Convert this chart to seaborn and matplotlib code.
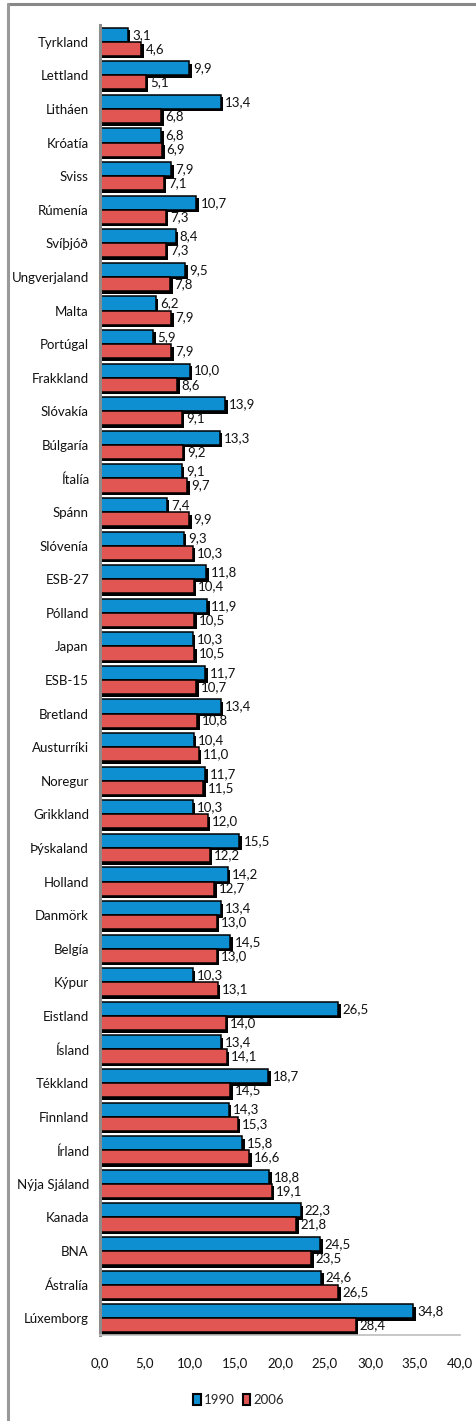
import matplotlib
matplotlib.use("Agg")
import matplotlib.pyplot as plt
import matplotlib.patheffects as pe
from matplotlib.lines import Line2D
import seaborn as sns
import pandas as pd

countries = ["Tyrkland", "Lettland", "Litháen", "Króatía", "Sviss", "Rúmenía", "Svíþjóð",
             "Ungverjaland", "Malta", "Portúgal", "Frakkland", "Slóvakía", "Búlgaría", "Ítalía",
             "Spánn", "Slóvenía", "ESB-27", "Pólland", "Japan", "ESB-15", "Bretland", "Austurríki",
             "Noregur", "Grikkland", "Þýskaland", "Holland", "Danmörk", "Belgía", "Kýpur",
             "Eistland", "Ísland", "Tékkland", "Finnland", "Írland", "Nýja Sjáland", "Kanada",
             "BNA", "Ástralía", "Lúxemborg"]
v1990 = [3.1, 9.9, 13.4, 6.8, 7.9, 10.7, 8.4, 9.5, 6.2, 5.9, 10.0, 13.9, 13.3, 9.1,
         7.4, 9.3, 11.8, 11.9, 10.3, 11.7, 13.4, 10.4, 11.7, 10.3, 15.5, 14.2, 13.4, 14.5, 10.3,
         26.5, 13.4, 18.7, 14.3, 15.8, 18.8, 22.3, 24.5, 24.6, 34.8]
v2006 = [4.6, 5.1, 6.8, 6.9, 7.1, 7.3, 7.3, 7.8, 7.9, 7.9, 8.6, 9.1, 9.2, 9.7,
         9.9, 10.3, 10.4, 10.5, 10.5, 10.7, 10.8, 11.0, 11.5, 12.0, 12.2, 12.7, 13.0, 13.0, 13.1,
         14.0, 14.1, 14.5, 15.3, 16.6, 19.1, 21.8, 23.5, 26.5, 28.4]
years = ["1990", "2006"]
xticks = [0, 5, 10, 15, 20, 25, 30, 35, 40]

df = pd.DataFrame({
    "land": countries * 2,
    "ar": [years[0]] * len(countries) + [years[1]] * len(countries),
    "gildi": v1990 + v2006,
})

sns.set_theme(style="white")
plt.rcParams["font.family"] = ["Lato", "DejaVu Sans"]
FS = 9.5

fig = plt.figure(figsize=(4.77, 14.21), dpi=100)
ax = fig.add_axes([100 / 477, 1 - 1335 / 1421, 360 / 477, (1335 - 25) / 1421])

palette = {"1990": "#0E8FD2", "2006": "#E15553"}
sns.barplot(data=df, y="land", x="gildi", hue="ar", order=countries, hue_order=years,
            palette=palette, orient="h", width=0.84, ax=ax, legend=False,
            edgecolor="black", linewidth=1.1, saturation=1)

for p in ax.patches:
    p.set_path_effects([pe.SimplePatchShadow(offset=(1.8, -1.8), shadow_rgbFace="black", alpha=1),
                        pe.Normal()])

for cont in ax.containers:
    labels = [f"{v:.1f}".replace(".", ",") for v in cont.datavalues]
    ax.bar_label(cont, labels=labels, padding=3, fontsize=FS, color="#111111")

ax.set_xlim(0, 40)
ax.set_xticks(xticks)
ax.set_xticklabels([f"{t:.1f}".replace(".", ",") for t in xticks], fontsize=FS)
ax.tick_params(axis="x", length=0, pad=16, colors="#111111")
ax.tick_params(axis="y", length=0, pad=8, labelsize=FS, colors="#111111")
ax.set_xlabel("")
ax.set_ylabel("")
for s in ["top", "right"]:
    ax.spines[s].set_visible(False)
ax.spines["left"].set_color("#8c8c8c")
ax.spines["left"].set_linewidth(2.2)
ax.spines["bottom"].set_color("#bdbdbd")
ax.spines["bottom"].set_linewidth(1.2)

handles = [plt.Rectangle((0, 0), 1, 1, facecolor=palette[y], edgecolor="black", linewidth=1.5)
           for y in years]
fig.legend(handles, years, loc="center", bbox_to_anchor=(0.5, 1 - 1400 / 1421), ncol=2,
           frameon=False, handlelength=0.6, handleheight=0.9, columnspacing=0.6,
           handletextpad=0.2, fontsize=FS)

# outer frame (top and left)
fig.add_artist(Line2D([8 / 477, 1], [1 - 4 / 1421, 1 - 4 / 1421], color="#888888", lw=2.2,
                      transform=fig.transFigure))
fig.add_artist(Line2D([8 / 477, 8 / 477], [0, 1 - 4 / 1421], color="#999999", lw=2.2,
                      transform=fig.transFigure))

fig.savefig("out.png", dpi=100)
